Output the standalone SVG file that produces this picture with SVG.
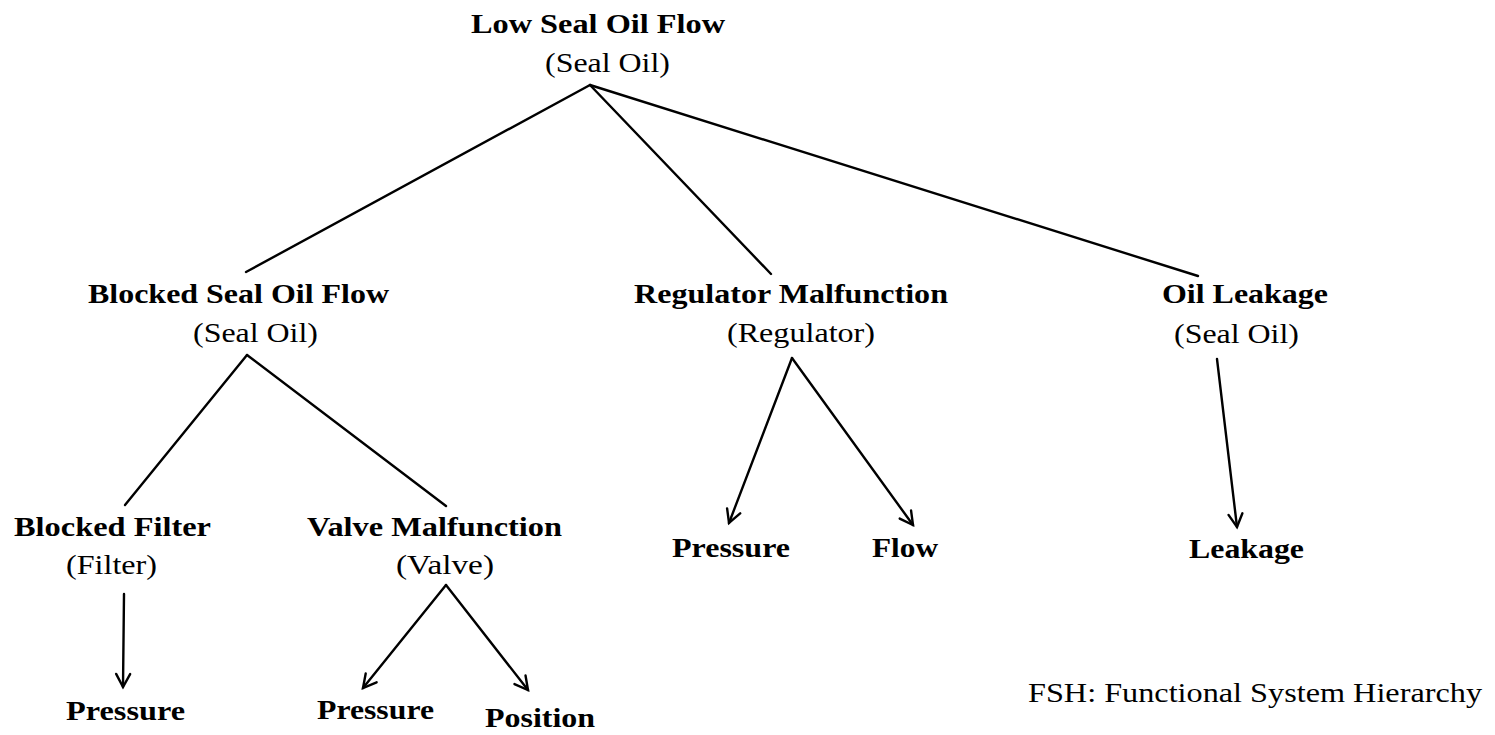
<svg xmlns="http://www.w3.org/2000/svg" width="1495" height="735" viewBox="0 0 1495 735">
  <style>
    text { font-family: "Liberation Serif", serif; font-size: 28px; fill: #000; }
    .t { font-weight: bold; }
    .s { font-weight: normal; }
    .edge { stroke: #000; stroke-width: 2.4; fill: none; stroke-linecap: round; }
  </style>
  <defs>
    <marker id="arrow" viewBox="-15 -9 18 18" markerWidth="18" markerHeight="18" refX="0" refY="0" orient="auto" markerUnits="userSpaceOnUse">
      <path d="M-13,-7 L0,0 L-13,7" fill="none" stroke="#000" stroke-width="2.4" stroke-linecap="round" stroke-linejoin="miter"/>
    </marker>
  </defs>

  <rect width="1495" height="735" fill="#fff"/>

  <!-- connectors -->
  <g id="connectors">
    <line class="edge" x1="590" y1="85" x2="246" y2="272"/>
    <line class="edge" x1="590" y1="85" x2="771" y2="274"/>
    <line class="edge" x1="590" y1="85" x2="1198" y2="276"/>
    <line class="edge" x1="247" y1="355" x2="125" y2="505"/>
    <line class="edge" x1="247" y1="355" x2="446" y2="506"/>
    <line class="edge" x1="124" y1="594" x2="123" y2="687" marker-end="url(#arrow)"/>
    <line class="edge" x1="446" y1="585" x2="363" y2="688" marker-end="url(#arrow)"/>
    <line class="edge" x1="446" y1="585" x2="528" y2="690" marker-end="url(#arrow)"/>
    <line class="edge" x1="792" y1="358" x2="729" y2="523" marker-end="url(#arrow)"/>
    <line class="edge" x1="792" y1="358" x2="913" y2="525" marker-end="url(#arrow)"/>
    <line class="edge" x1="1217" y1="359" x2="1237" y2="527" marker-end="url(#arrow)"/>
  </g>

  <!-- root -->
  <g id="low-seal-oil-flow">
    <text class="t" x="471" y="33" textLength="254" lengthAdjust="spacingAndGlyphs">Low Seal Oil Flow</text>
    <text class="s" x="545" y="72" textLength="125" lengthAdjust="spacingAndGlyphs">(Seal Oil)</text>
  </g>

  <!-- second level -->
  <g id="blocked-seal-oil-flow">
    <text class="t" x="88" y="303" textLength="301" lengthAdjust="spacingAndGlyphs">Blocked Seal Oil Flow</text>
    <text class="s" x="193" y="342" textLength="125" lengthAdjust="spacingAndGlyphs">(Seal Oil)</text>
  </g>
  <g id="regulator-malfunction">
    <text class="t" x="634" y="303" textLength="314" lengthAdjust="spacingAndGlyphs">Regulator Malfunction</text>
    <text class="s" x="727" y="342" textLength="148" lengthAdjust="spacingAndGlyphs">(Regulator)</text>
  </g>
  <g id="oil-leakage">
    <text class="t" x="1162" y="303" textLength="166" lengthAdjust="spacingAndGlyphs">Oil Leakage</text>
    <text class="s" x="1174" y="343" textLength="125" lengthAdjust="spacingAndGlyphs">(Seal Oil)</text>
  </g>

  <!-- third level -->
  <g id="blocked-filter">
    <text class="t" x="14" y="536" textLength="197" lengthAdjust="spacingAndGlyphs">Blocked Filter</text>
    <text class="s" x="66" y="574" textLength="91" lengthAdjust="spacingAndGlyphs">(Filter)</text>
  </g>
  <g id="valve-malfunction">
    <text class="t" x="307" y="536" textLength="255" lengthAdjust="spacingAndGlyphs">Valve Malfunction</text>
    <text class="s" x="396" y="574" textLength="98" lengthAdjust="spacingAndGlyphs">(Valve)</text>
  </g>

  <!-- leaves -->
  <g id="filter-pressure">
    <text class="t" x="66" y="720" textLength="119" lengthAdjust="spacingAndGlyphs">Pressure</text>
  </g>
  <g id="valve-pressure">
    <text class="t" x="317" y="719" textLength="117" lengthAdjust="spacingAndGlyphs">Pressure</text>
  </g>
  <g id="valve-position">
    <text class="t" x="485" y="727" textLength="110" lengthAdjust="spacingAndGlyphs">Position</text>
  </g>
  <g id="regulator-pressure">
    <text class="t" x="672" y="557" textLength="118" lengthAdjust="spacingAndGlyphs">Pressure</text>
  </g>
  <g id="regulator-flow">
    <text class="t" x="872" y="557" textLength="66" lengthAdjust="spacingAndGlyphs">Flow</text>
  </g>
  <g id="leakage">
    <text class="t" x="1189" y="558" textLength="115" lengthAdjust="spacingAndGlyphs">Leakage</text>
  </g>

  <!-- caption -->
  <g id="caption">
    <text class="s" x="1028" y="702" textLength="454" lengthAdjust="spacingAndGlyphs">FSH: Functional System Hierarchy</text>
  </g>
</svg>
